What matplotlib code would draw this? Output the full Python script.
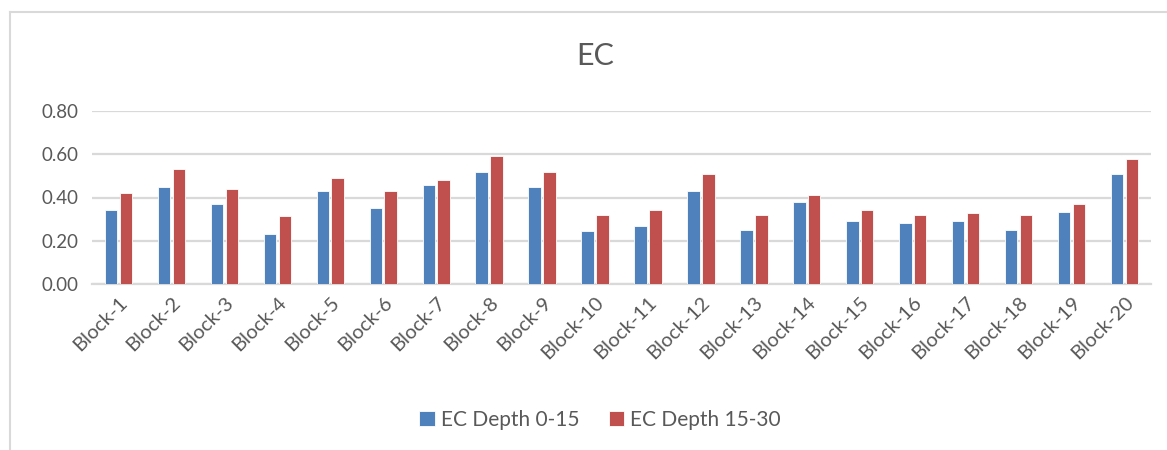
import numpy as np
import matplotlib
matplotlib.use('Agg')
from matplotlib import pyplot as plt
from matplotlib.lines import Line2D

plt.rcParams['font.family'] = ['Lato', 'DejaVu Sans']

blocks = ['Block-%d' % i for i in range(1, 21)]
depth_0_15 = [0.34, 0.45, 0.37, 0.23, 0.43, 0.35, 0.46, 0.52, 0.45, 0.245,
              0.27, 0.43, 0.25, 0.38, 0.29, 0.28, 0.29, 0.25, 0.335, 0.51]
depth_15_30 = [0.42, 0.53, 0.44, 0.315, 0.49, 0.43, 0.48, 0.59, 0.52, 0.32,
               0.34, 0.51, 0.32, 0.41, 0.34, 0.32, 0.33, 0.32, 0.37, 0.58]
yticks = [0.0, 0.2, 0.4, 0.6, 0.8]

BLUE = '#4f81bd'
RED = '#c0504d'
TXT = '#595959'
GRID = '#d9d9d9'

fig = plt.figure(figsize=(11.67, 4.5), dpi=100)
ax = fig.add_axes([92 / 1167, 1 - 284 / 450, (1151 - 92) / 1167, (284 - 111) / 450])

x = np.arange(len(blocks))
w = 0.235
ax.bar(x - 0.14, depth_0_15, w, color=BLUE, edgecolor='white', linewidth=0.6,
       label='EC Depth 0-15', zorder=3)
ax.bar(x + 0.14, depth_15_30, w, color=RED, edgecolor='white', linewidth=0.6,
       label='EC Depth 15-30', zorder=3)

ax.set_xlim(-0.5, len(blocks) - 0.5)
ax.set_ylim(0, 0.8)
ax.set_yticks(yticks)
ax.set_yticklabels(['%.2f' % v for v in yticks])
ax.yaxis.grid(True, color=GRID, linewidth=1.6, zorder=0)
ax.set_axisbelow(True)
for s in ['top', 'right', 'left']:
    ax.spines[s].set_visible(False)
ax.spines['bottom'].set_color(GRID)
ax.spines['bottom'].set_linewidth(1.6)
ax.tick_params(axis='y', length=0, labelsize=13.5, colors=TXT, pad=10)
ax.set_xticks(x)
ax.set_xticklabels(blocks, rotation=45, ha='right', rotation_mode='anchor')
ax.tick_params(axis='x', length=0, labelsize=14.5, colors=TXT, pad=7)

fig.text(595 / 1167, 1 - 56 / 450, 'EC', ha='center', va='center', fontsize=22, color=TXT)

leg = fig.legend(loc='center', bbox_to_anchor=(600 / 1167, 1 - 420 / 450), ncol=2,
                 frameon=False, fontsize=15, handlelength=0.75, handleheight=0.75,
                 handletextpad=0.3, columnspacing=1.4)
for t in leg.get_texts():
    t.set_color(TXT)

# chart area border (left and top edges visible)
fig.add_artist(Line2D([9.5 / 1167, 9.5 / 1167], [0, 1 - 12 / 450],
                      transform=fig.transFigure, color='#d9d9d9', linewidth=1.5))
fig.add_artist(Line2D([9.5 / 1167, 1], [1 - 12 / 450, 1 - 12 / 450],
                      transform=fig.transFigure, color='#d9d9d9', linewidth=1.5))

fig.savefig('out.png', dpi=100)
